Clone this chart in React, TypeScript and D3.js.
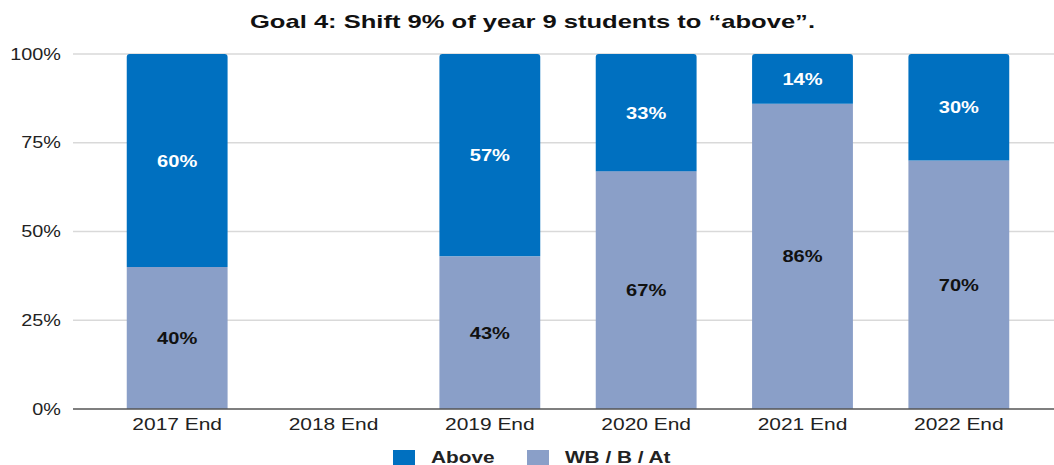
import React from "react";
import * as d3 from "d3";

const categories = ["2017 End", "2018 End", "2019 End", "2020 End", "2021 End", "2022 End"];
const above: (number | null)[] = [60, null, 57, 33, 14, 30];
const wbBAt: (number | null)[] = [40, null, 43, 67, 86, 70];
const yTicks = [0, 25, 50, 75, 100];
const seriesNames = ["Above", "WB / B / At"];
const colors = ["#0070c0", "#8a9fc8"];

const FONT = "Liberation Sans, Arial, sans-serif";

function SText(props: {
  x: number; y: number; sx: number; size: number; anchor?: string; bold?: boolean; fill?: string; children: React.ReactNode;
}) {
  const { x, y, sx, size, anchor = "start", bold = false, fill = "#222", children } = props;
  return (
    <text
      transform={`translate(${x},${y}) scale(${sx},1)`}
      textAnchor={anchor}
      fontFamily={FONT}
      fontWeight={bold ? "bold" : "normal"}
      fontSize={size}
      fill={fill}
    >
      {children}
    </text>
  );
}

export default function App() {
  const W = 1054, H = 465;
  const x = d3.scaleBand().domain(categories).range([99, 1037]).paddingInner(0.355).paddingOuter(0.1775);
  const y = d3.scaleLinear().domain([0, 100]).range([409, 54]);
  const bw = x.bandwidth();
  const r = 3;
  const topPath = (x0: number, y0: number, y1: number) =>
    `M${x0},${y1} L${x0},${y0 + r} Q${x0},${y0} ${x0 + r},${y0} L${x0 + bw - r},${y0} Q${x0 + bw},${y0} ${x0 + bw},${y0 + r} L${x0 + bw},${y1} Z`;
  return (
    <svg width={W} height={H} style={{ position: "absolute", left: 0, top: 0 }}>
      <rect width={W} height={H} fill="#fff" />
      <text
        x={250}
        y={28}
        textLength={565}
        lengthAdjust="spacingAndGlyphs"
        fontFamily={FONT}
        fontWeight="bold"
        fontSize={18.5}
        fill="#111"
      >
        Goal 4: Shift 9% of year 9 students to “above”.
      </text>
      {yTicks.map((t) => (
        <g key={t}>
          {t > 0 && <line x1={73} x2={1054} y1={y(t)} y2={y(t)} stroke="#d9d9d9" strokeWidth={1.5} />}
          <SText x={61} y={y(t) + 5.5} sx={1.24} size={16} anchor="end">
            {t}%
          </SText>
        </g>
      ))}
      {categories.map((c, i) => {
        const x0 = x(c)!;
        const wb = wbBAt[i];
        const ab = above[i];
        if (wb == null || ab == null) return null;
        return (
          <g key={c}>
            <rect x={x0} y={y(wb)} width={bw} height={y(0) - y(wb)} fill={colors[1]} />
            <path d={topPath(x0, y(wb + ab), y(wb))} fill={colors[0]} />
            <SText x={x0 + bw / 2} y={(y(0) + y(wb)) / 2 + 6} sx={1.18} size={17} anchor="middle" bold fill="#111">
              {wb}%
            </SText>
            <SText x={x0 + bw / 2} y={(y(wb) + y(wb + ab)) / 2 + 6} sx={1.18} size={17} anchor="middle" bold fill="#fff">
              {ab}%
            </SText>
          </g>
        );
      })}
      <line x1={73} x2={1054} y1={y(0)} y2={y(0)} stroke="#555" strokeWidth={1.5} />
      {categories.map((c) => (
        <SText key={c} x={x(c)! + bw / 2} y={430} sx={1.31} size={16} anchor="middle">
          {c}
        </SText>
      ))}
      {seriesNames.map((s, i) => {
        const lx = [393, 527][i];
        return (
          <g key={s}>
            <rect x={lx} y={450} width={22} height={15} fill={colors[i]} />
            <SText x={lx + 38} y={462.5} sx={1.3} size={16} bold fill="#222">
              {s}
            </SText>
          </g>
        );
      })}
    </svg>
  );
}
